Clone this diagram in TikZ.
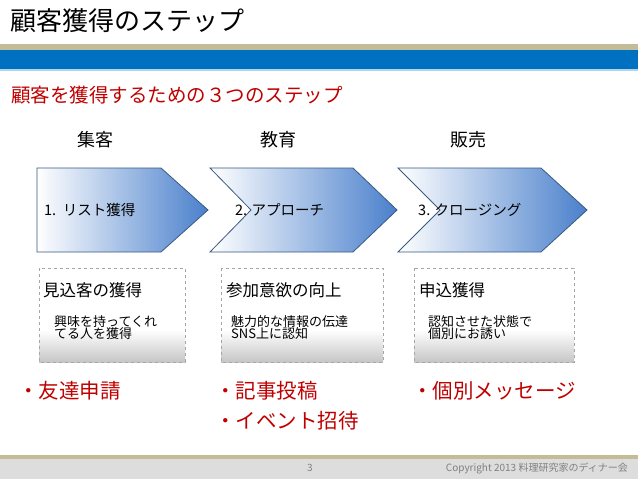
\documentclass[tikz,border=0pt]{standalone}
\usepackage{fontspec}
\setmainfont{Noto Sans CJK JP}
\usetikzlibrary{shapes.geometric}
\definecolor{tanc}{HTML}{C4BC96}
\definecolor{bandblue}{HTML}{0070C0}
\definecolor{chevblue}{HTML}{4A80CC}
\definecolor{chevline}{HTML}{3A5A80}
\definecolor{redt}{HTML}{C00000}
\definecolor{foot}{HTML}{DDDDDD}
\newcommand{\fs}[1]{\fontsize{#1}{#1}\selectfont}
\tikzset{
  chev/.style={draw=chevline,line width=0.8pt,left color=white,right color=chevblue},
  box/.style={draw=gray!70,dashed,line width=0.6pt},
  hd/.style={anchor=center,inner sep=0pt,font=\fs{18}},
  ctext/.style={anchor=west,inner sep=0pt,font=\fs{14.5}},
  btitle/.style={anchor=west,inner sep=0pt,font=\fs{16.5}},
  bsub/.style={anchor=north west,inner sep=0pt,font=\fs{13},align=left},
  red/.style={anchor=west,inner sep=0pt,text=redt,font=\fs{20.5}},
}
\begin{document}
\begin{tikzpicture}[x=1pt,y=-1pt]
\useasboundingbox (0,0) rectangle (638,479);
\fill[white] (0,0) rectangle (638,479);
% title
\node[anchor=west,inner sep=0pt,font=\fs{26}] (title) at (10,21) {顧客獲得のステップ};
\fill[tanc] (0,44) rectangle (638,50);
\fill[bandblue] (0,50) rectangle (638,69);
\fill[bandblue!30] (0,69) rectangle (638,71);
\node[anchor=west,inner sep=0pt,text=redt,font=\fs{19.5}] (sub) at (11,95) {顧客を獲得するための３つのステップ};
% headers
\node[hd] (h1) at (95,140) {集客};
\node[hd] (h2) at (278,140) {教育};
\node[hd] (h3) at (468,140) {販売};
% chevrons
\shade[chev] (37,168) -- (161,168) -- (208,210) -- (161,252) -- (37,252) -- cycle;
\shade[chev] (210,168) -- (353,168) -- (397,210) -- (353,252) -- (210,252) -- (251,210) -- cycle;
\shade[chev] (398,168) -- (541,168) -- (587,210) -- (541,252) -- (398,252) -- (440,210) -- cycle;
\node[ctext] (c1) at (44,210) {1.\ \ リスト獲得};
\node[ctext] (c2) at (235,210) {2. アプローチ};
\node[ctext] (c3) at (418,210) {3. クロージング};
% boxes
\foreach \a/\b in {39/185,221/383,414/574}{
  \fill[white] (\a,268) rectangle (\b,330);
  \shade[top color=white,bottom color=gray!45] (\a,330) rectangle (\b,362);
  \draw[box] (\a,268) rectangle (\b,362);
}
\node[btitle] (b1) at (43,290) {見込客の獲得};
\node[btitle] (b2) at (226,290) {参加意欲の向上};
\node[btitle] (b3) at (419,290) {申込獲得};
\node[bsub] (s1) at (54,315) {興味を持ってくれ\\[-0.5pt]てる人を獲得};
\node[bsub] (s2) at (231,315) {魅力的な情報の伝達\\[-0.5pt]SNS上に認知};
\node[bsub] (s3) at (428,315) {認知させた状態で\\[-0.5pt]個別にお誘い};
% red items
\node[red] (r1) at (18,391) {・友達申請};
\node[red] (r2) at (215,391) {・記事投稿};
\node[red] (r3) at (215,421) {・イベント招待};
\node[red] (r4) at (412,391) {・個別メッセージ};
% footer
\fill[tanc] (0,455) rectangle (638,459);
\fill[foot] (0,459) rectangle (638,479);
\node[inner sep=0pt,text=gray,font=\fs{10}] (pg) at (310,468) {3};
\node[anchor=east,inner sep=0pt,text=gray,font=\fs{10}] (cp) at (628,468) {Copyright 2013 料理研究家のディナー会};
\end{tikzpicture}
\end{document}
